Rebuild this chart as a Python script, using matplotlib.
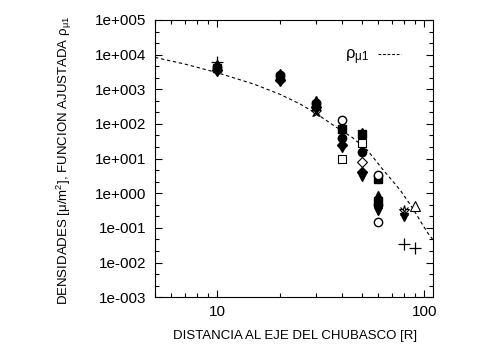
import numpy as np
import matplotlib
matplotlib.use("Agg")
import matplotlib.pyplot as plt
from matplotlib.lines import Line2D
from matplotlib.ticker import FixedLocator, NullFormatter, LogLocator

plt.rcParams['font.family'] = ['Liberation Sans', 'DejaVu Sans']
plt.rcParams['mathtext.fontset'] = 'custom'
plt.rcParams['mathtext.rm'] = 'Liberation Sans'
plt.rcParams['mathtext.it'] = 'Liberation Sans'
plt.rcParams['mathtext.default'] = 'regular'

# ---- data ----
sq_filled_x = [10, 20, 30, 40, 50, 60, 60]
sq_filled_y = [4000, 2200, 350, 70, 50, 2.5, 0.6]

circ_filled_x = [10, 20, 30, 40, 50, 60]
circ_filled_y = [4500, 2500, 400, 40, 15, 0.45]

diam_filled_x = [10, 20, 30, 40, 50]
diam_filled_y = [3500, 1800, 300, 25, 4.0]

triup_filled_x = [10, 20, 30, 40, 50, 60]
triup_filled_y = [5500, 3000, 500, 90, 60, 0.9]

tridn_filled_x = [10, 20, 30, 40, 50, 60, 80]
tridn_filled_y = [3200, 1600, 250, 20, 3.0, 0.3, 0.2]

circ_open_x = [40, 60, 60]
circ_open_y = [130, 3.4, 0.15]

sq_open_x = [40, 50]
sq_open_y = [10, 28]

diam_open_x = [50]
diam_open_y = [8]

star_x = [30, 80]
star_y = [220, 0.3]

plus_x = [10, 80, 90]
plus_y = [6000, 0.035, 0.027]

tri_open_x = [90]
tri_open_y = [0.42]

fit_x = [5, 7, 10, 15, 20, 25, 30, 36, 45, 53, 58, 63, 70, 77, 83, 89, 96, 104, 110]
fit_y = [8300, 5300, 3000, 1410, 720, 380, 200, 95, 40, 17.5, 9.0, 4.8, 2.3, 1.15, 0.6, 0.32, 0.15, 0.07, 0.045]

xlabel = "DISTANCIA AL EJE DEL CHUBASCO [R]"
ylabel = "DENSIDADES [μ/m$^{2}$], FUNCION AJUSTADA ρ$_{μ1}$"
legend_label = "ρ$_{μ1}$"

# ---- figure ----
fig = plt.figure(figsize=(5, 3.5), dpi=100)
ax = fig.add_axes([0.31, 0.151, 0.556, 0.792])
ax.set_xscale('log')
ax.set_yscale('log')
ax.set_xlim(5, 110)
ax.set_ylim(1e-3, 1e5)

ms = 6
k = 'black'
ax.plot(fit_x, fit_y, color=k, lw=0.8, ls=(0, (3, 2.5)), zorder=1)
ax.plot(tridn_filled_x, tridn_filled_y, 'v', color=k, ms=ms, ls='none')
ax.plot(diam_filled_x, diam_filled_y, 'D', color=k, ms=ms - 1, ls='none')
ax.plot(circ_filled_x, circ_filled_y, 'o', color=k, ms=ms, ls='none')
ax.plot(triup_filled_x, triup_filled_y, '^', color=k, ms=ms, ls='none')
ax.plot(sq_filled_x, sq_filled_y, 's', color=k, ms=ms, ls='none')
ax.plot(circ_open_x, circ_open_y, 'o', mfc='white', mec=k, mew=1, ms=ms, ls='none')
ax.plot(sq_open_x, sq_open_y, 's', mfc='white', mec=k, mew=0.8, ms=ms, ls='none')
ax.plot(diam_open_x, diam_open_y, 'D', mfc='white', mec=k, mew=0.8, ms=ms - 1, ls='none')
ax.plot(star_x, star_y, '*', mfc='none', mec=k, mew=0.8, ms=ms + 2, ls='none')
ax.plot(star_x, star_y, 'x', color=k, mew=0.8, ms=ms, ls='none')
ax.plot(plus_x, plus_y, '+', color=k, mew=0.9, ms=ms + 2, ls='none')
ax.plot(tri_open_x, tri_open_y, '^', mfc='white', mec=k, mew=0.8, ms=ms + 1, ls='none')

# ticks
ax.xaxis.set_major_locator(FixedLocator([10, 100]))
ax.xaxis.set_minor_locator(LogLocator(base=10, subs=np.arange(2, 10), numticks=20))
ax.xaxis.set_minor_formatter(NullFormatter())
ax.set_xticklabels(['10', '100'])

dec = np.arange(-3, 6)
ax.yaxis.set_major_locator(FixedLocator(10.0 ** dec))
ax.set_yticklabels(['1e%s%03d' % ('+' if d >= 0 else '-', abs(d)) for d in dec])
minors = [10.0 ** (d + f) for d in range(-3, 5) for f in (1 / 3, 2 / 3)]
ax.yaxis.set_minor_locator(FixedLocator(minors))
ax.yaxis.set_minor_formatter(NullFormatter())

ax.tick_params(which='both', direction='in', top=True, right=True, color=k)
ax.tick_params(which='major', length=5, width=0.8, labelsize=11, pad=6)
ax.tick_params(which='minor', length=2.6, width=0.8)
for s in ax.spines.values():
    s.set_linewidth(0.8)

ax.set_xlabel(xlabel, fontsize=9.5)
ax.xaxis.set_label_coords(0.504, -0.12)
ax.set_ylabel(ylabel, fontsize=9.5)
ax.yaxis.set_label_coords(-0.29, 0.495)

h = Line2D([], [], color=k, lw=0.8, ls=(0, (2.5, 1.6)))
ax.legend([h], [legend_label], loc='center right', bbox_to_anchor=(0.885, 0.865),
          frameon=False, markerfirst=False, handlelength=1.4, handletextpad=0.5,
          borderpad=0, borderaxespad=0, fontsize=12)

fig.savefig('out.png', dpi=100)
